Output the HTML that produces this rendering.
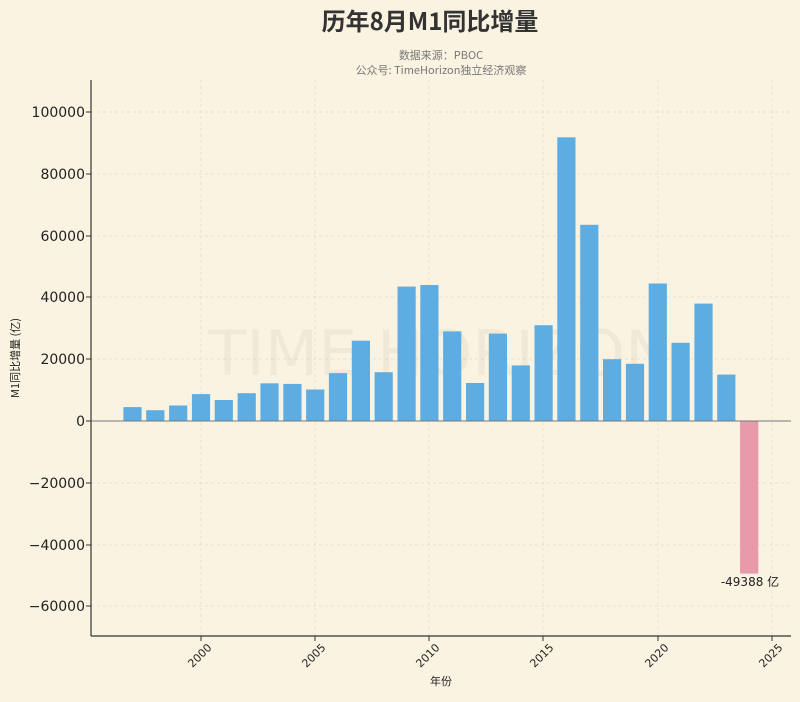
<!DOCTYPE html>
<html><head><meta charset="utf-8"><style>
html,body{margin:0;padding:0;background:#faf3e1;}
svg text{font-family:"DejaVu Sans","Liberation Sans","Noto Sans CJK SC",sans-serif;}
</style></head><body>
<svg width="800" height="697" xmlns="http://www.w3.org/2000/svg">
<rect width="800" height="697" fill="#faf3e1"/>
<text x="430" y="30" text-anchor="middle" font-size="24" font-weight="bold" fill="#333" style="font-family:'Noto Sans CJK SC',sans-serif">历年8月M1同比增量</text>
<text x="441" y="59" text-anchor="middle" font-size="11" fill="#777" style="font-family:'Noto Sans CJK SC',sans-serif">数据来源：PBOC</text>
<text x="441" y="74" text-anchor="middle" font-size="11" fill="#777" style="font-family:'Noto Sans CJK SC',sans-serif">公众号: TimeHorizon独立经济观察</text>
<g stroke="#e6dcc6" stroke-dasharray="3,3" stroke-width="0.7">
<line x1="91" x2="791" y1="112" y2="112"/><line x1="91" x2="791" y1="174" y2="174"/><line x1="91" x2="791" y1="236" y2="236"/><line x1="91" x2="791" y1="297" y2="297"/><line x1="91" x2="791" y1="359" y2="359"/><line x1="91" x2="791" y1="483" y2="483"/><line x1="91" x2="791" y1="545" y2="545"/><line x1="91" x2="791" y1="606" y2="606"/>
<line x1="201" x2="201" y1="80" y2="636"/><line x1="315" x2="315" y1="80" y2="636"/><line x1="429" x2="429" y1="80" y2="636"/><line x1="543" x2="543" y1="80" y2="636"/><line x1="658" x2="658" y1="80" y2="636"/><line x1="772" x2="772" y1="80" y2="636"/>
</g>
<text x="440" y="375" text-anchor="middle" font-size="62" fill="#000" fill-opacity="0.04">TIME HORIZON</text>
<g fill="#5dade2">
<rect x="123.4" y="407.1" width="18.2" height="13.9"/>
<rect x="146.2" y="410.2" width="18.2" height="10.8"/>
<rect x="169.1" y="405.5" width="18.2" height="15.5"/>
<rect x="191.9" y="394.1" width="18.2" height="26.9"/>
<rect x="214.7" y="400" width="18.2" height="21"/>
<rect x="237.6" y="393.2" width="18.2" height="27.8"/>
<rect x="260.4" y="383.3" width="18.2" height="37.7"/>
<rect x="283.3" y="383.9" width="18.2" height="37.1"/>
<rect x="306.1" y="389.5" width="18.2" height="31.5"/>
<rect x="328.9" y="373.1" width="18.2" height="47.9"/>
<rect x="351.8" y="340.7" width="18.2" height="80.3"/>
<rect x="374.6" y="372.2" width="18.2" height="48.8"/>
<rect x="397.5" y="286.6" width="18.2" height="134.4"/>
<rect x="420.3" y="285" width="18.2" height="136"/>
<rect x="443.1" y="331.4" width="18.2" height="89.6"/>
<rect x="466" y="383" width="18.2" height="38"/>
<rect x="488.8" y="333.6" width="18.2" height="87.4"/>
<rect x="511.7" y="365.4" width="18.2" height="55.6"/>
<rect x="534.5" y="325.2" width="18.2" height="95.8"/>
<rect x="557.3" y="137.3" width="18.2" height="283.7"/>
<rect x="580.2" y="224.8" width="18.2" height="196.2"/>
<rect x="603" y="359.2" width="18.2" height="61.8"/>
<rect x="625.9" y="363.8" width="18.2" height="57.2"/>
<rect x="648.7" y="283.5" width="18.2" height="137.5"/>
<rect x="671.5" y="342.8" width="18.2" height="78.2"/>
<rect x="694.4" y="303.6" width="18.2" height="117.4"/>
<rect x="717.2" y="374.6" width="18.2" height="46.4"/>
</g>
<rect x="740.1" y="421" width="18.2" height="152.6" fill="#e899aa"/>
<line x1="91" x2="791" y1="421" y2="421" stroke="#777" stroke-width="1"/>
<line x1="91" x2="91" y1="80" y2="636" stroke="#333" stroke-width="1.2"/>
<line x1="91" x2="791" y1="636" y2="636" stroke="#333" stroke-width="1.2"/>
<g font-size="14" fill="#222" text-anchor="end">
<text x="85" y="117">100000</text><text x="85" y="179">80000</text><text x="85" y="241">60000</text><text x="85" y="302">40000</text><text x="85" y="364">20000</text><text x="85" y="426">0</text><text x="85" y="488">−20000</text><text x="85" y="550">−40000</text><text x="85" y="611">−60000</text>
</g>
<g stroke="#333"><line x1="86" x2="91" y1="112" y2="112"/><line x1="86" x2="91" y1="174" y2="174"/><line x1="86" x2="91" y1="236" y2="236"/><line x1="86" x2="91" y1="297" y2="297"/><line x1="86" x2="91" y1="359" y2="359"/><line x1="86" x2="91" y1="421" y2="421"/><line x1="86" x2="91" y1="483" y2="483"/><line x1="86" x2="91" y1="545" y2="545"/><line x1="86" x2="91" y1="606" y2="606"/>
<line x1="201" x2="201" y1="636" y2="641"/><line x1="315" x2="315" y1="636" y2="641"/><line x1="429" x2="429" y1="636" y2="641"/><line x1="543" x2="543" y1="636" y2="641"/><line x1="658" x2="658" y1="636" y2="641"/><line x1="772" x2="772" y1="636" y2="641"/></g>
<g font-size="11" fill="#222" text-anchor="middle">
<text transform="translate(201,654) rotate(-45)" x="-2" y="4">2000</text>
<text transform="translate(315,654) rotate(-45)" x="-2" y="4">2005</text>
<text transform="translate(429,654) rotate(-45)" x="-2" y="4">2010</text>
<text transform="translate(543,654) rotate(-45)" x="-2" y="4">2015</text>
<text transform="translate(658,654) rotate(-45)" x="-2" y="4">2020</text>
<text transform="translate(772,654) rotate(-45)" x="-2" y="4">2025</text>
</g>
<text x="441" y="685" text-anchor="middle" font-size="11" fill="#222" style="font-family:'Noto Sans CJK SC',sans-serif">年份</text>
<text transform="translate(19,358) rotate(-90)" text-anchor="middle" font-size="11" fill="#222" style="font-family:'Noto Sans CJK SC',sans-serif">M1同比增量 (亿)</text>
<text x="750" y="586" text-anchor="middle" font-size="12" fill="#222" style="font-family:'DejaVu Sans','Noto Sans CJK SC',sans-serif">-49388 亿</text>
</svg>
</body></html>
